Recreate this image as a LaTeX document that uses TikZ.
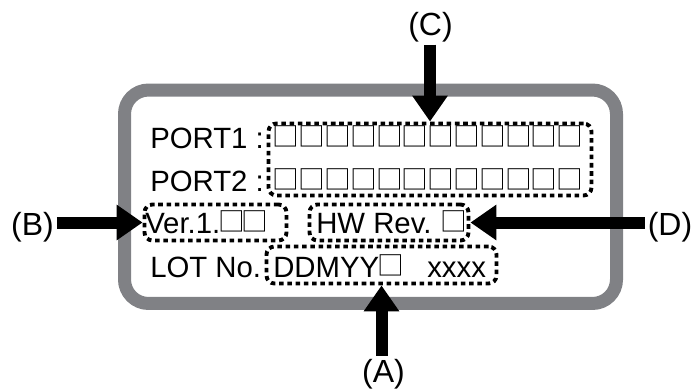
\documentclass[tikz,border=0pt]{standalone}
\usepackage{fontspec}
\setmainfont{Liberation Sans}
\newfontfamily\cjk{Noto Sans CJK JP}
\usetikzlibrary{arrows.meta}
\definecolor{framegray}{RGB}{128,129,133}
\newcommand\sqbox[1]{\makebox[#1][c]{\raisebox{0.8pt}{\cjk\fontsize{20pt}{20pt}\selectfont □}}}
\newcommand\sqw{\sqbox{19.35pt}}
\newcommand\sqn{\sqbox{17.25pt}}
\begin{document}
\begin{tikzpicture}[x=0.75pt,y=-0.75pt,
  every node/.style={font=\fontsize{22pt}{26pt}\selectfont},
  txt/.style={anchor=base west,inner sep=0pt},
  lab/.style={anchor=base,inner sep=2pt,font=\fontsize{24pt}{28pt}\selectfont},
  frame/.style={draw=framegray,line width=9.75pt,rounded corners=18pt,inner sep=0pt},
  dbox/.style={draw,line width=2.9pt,dash pattern=on 3.4pt off 2.8pt,rounded corners=6pt,inner sep=0pt},
  bigarrow/.style={line width=9pt,-{Triangle[length=19.5pt,width=25.5pt]}}]
\useasboundingbox (0,0) rectangle (695,390);
\node[frame,minimum width=369pt,minimum height=160.1pt] (frm) at (370.5,196.75) {};
% texts
\node[txt] (p1) at (150,148) {PORT1 :};
\node[txt] (s1) at (273,148) {\sqw\sqw\sqw\sqw\sqw\sqw\sqw\sqw\sqw\sqw\sqw\sqw};
\node[txt] (p2) at (150,191) {PORT2 :};
\node[txt] (s2) at (273,191) {\sqw\sqw\sqw\sqw\sqw\sqw\sqw\sqw\sqw\sqw\sqw\sqw};
\node[txt] (ver) at (145,233) {Ver.1.\sqn\sqn};
\node[txt] (hw) at (316,233) {HW Rev. \sqn};
\node[txt] (lot) at (150,277) {LOT No.};
\node[txt] (dd) at (273,277) {DDMYY\sqn};
\node[txt] (xx) at (427,277) {xxxx};
% dotted boxes
\node[dbox,minimum width=242.25pt,minimum height=54pt] (boxC) at (430,159.5) {};
\node[dbox,minimum width=106.5pt,minimum height=27pt] (boxB) at (215.5,222.5) {};
\node[dbox,minimum width=119.25pt,minimum height=27pt] (boxD) at (389,222.5) {};
\node[dbox,minimum width=172.5pt,minimum height=27.75pt] (boxA) at (381.5,265) {};
% labels
\node[lab] (labC) at (430.5,35) {(C)};
\node[lab] (labB) at (32.5,235) {(B)};
\node[lab] (labD) at (670,235) {(D)};
\node[lab] (labA) at (383.5,382) {(A)};
% arrows
\draw[bigarrow] (labC.south -| boxC.north) -- (boxC.north);
\draw[bigarrow] (labB.east |- boxB.west) -- (boxB.west);
\draw[bigarrow] (labD.west |- boxD.east) -- (boxD.east);
\draw[bigarrow] (labA.north -| boxA.south) -- (boxA.south);
\end{tikzpicture}
\end{document}
